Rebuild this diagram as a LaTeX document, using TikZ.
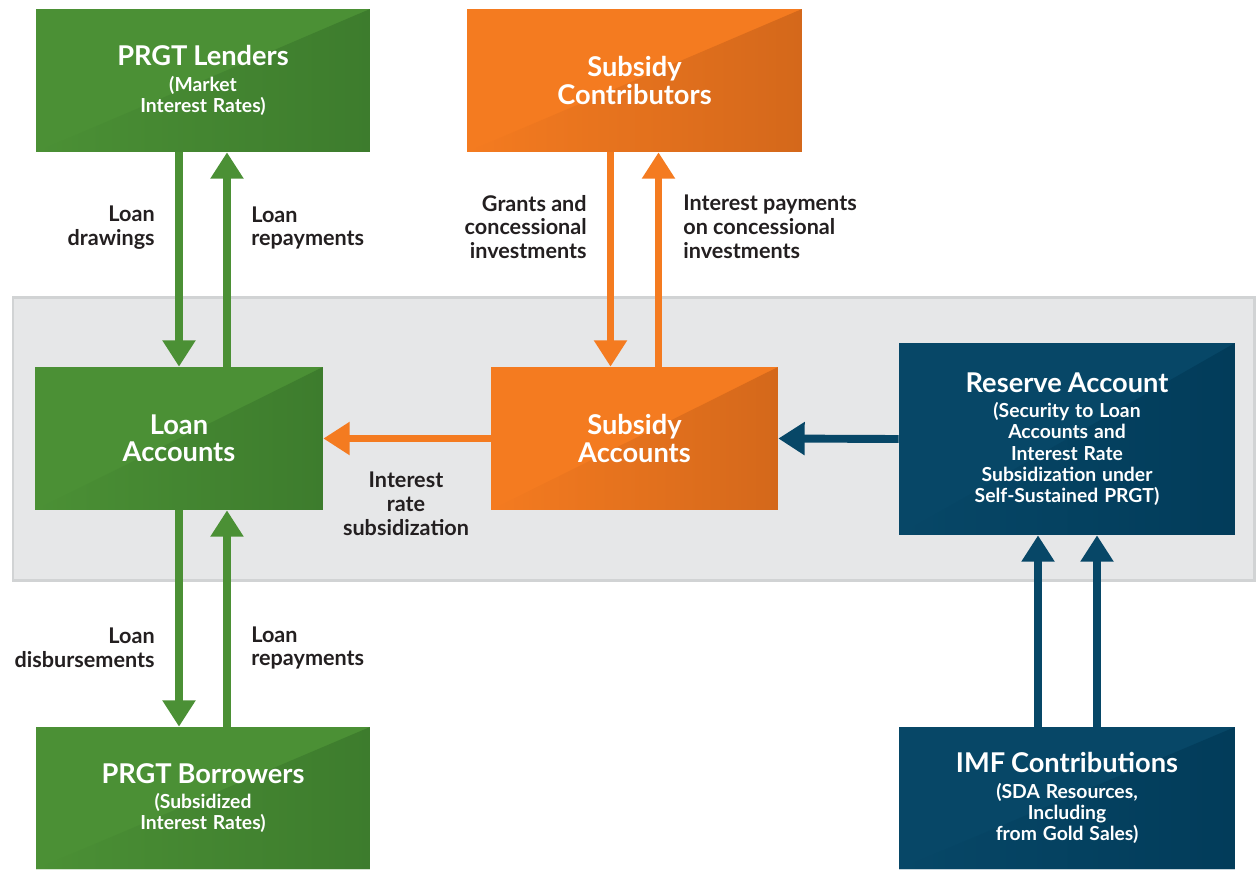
\documentclass[tikz,border=0pt]{standalone}
\usepackage{fontspec}
\setmainfont{Lato}
\usetikzlibrary{arrows.meta,positioning}
\definecolor{prgtgreen}{HTML}{4B9035}
\definecolor{prgtgreenD}{HTML}{3D7C2D}
\definecolor{subsorange}{HTML}{F47B20}
\definecolor{subsorangeD}{HTML}{D4681B}
\definecolor{imfblue}{HTML}{074767}
\definecolor{imfblueD}{HTML}{023C5A}
\definecolor{panelfill}{HTML}{E6E7E8}
\definecolor{panelline}{HTML}{D1D3D4}
\definecolor{labelgray}{HTML}{231F20}
\newcommand{\boxhead}[1]{{\fontsize{15.5}{15.5}\selectfont\bfseries #1\par}}
\newcommand{\boxnote}[1]{{\vspace{2.5pt}\fontsize{11}{12}\selectfont\bfseries #1\par}}
\tikzset{
  acct/.style 2 args={fill=#1, inner sep=0pt, text width=5cm, align=center,
    text=white,
    path picture={\fill[left color=#1, right color=#2]
      (path picture bounding box.south west) -- (path picture bounding box.north east)
      -- (path picture bounding box.south east) -- cycle;}},
  gbox/.style={acct={prgtgreen}{prgtgreenD}},
  obox/.style={acct={subsorange}{subsorangeD}},
  bbox/.style={acct={imfblue}{imfblueD}},
  flow/.style={line width=4.5pt, -{Triangle[width=18pt,length=15pt]}},
  garrow/.style={flow, draw=prgtgreen},
  oarrow/.style={flow, draw=subsorange},
  barrow/.style={flow, draw=imfblue},
  lbl/.style={font=\fontsize{12.3}{13.6}\selectfont\bfseries, text=labelgray, inner sep=0pt}
}
\begin{document}
\begin{tikzpicture}[x=0.02cm,y=-0.02cm]
    \useasboundingbox (0,0) rectangle (1256,869);
    %% grey panel round the accounts
    \draw[fill=panelfill, draw=panelline, line width=0.06cm] (13,297) rectangle (1254,580);
    %% boxes
    \node[gbox, minimum width=6.68cm, minimum height=2.86cm] (lenders) at (203,80.5)
        {\boxhead{PRGT Lenders}\boxnote{(Market\\Interest Rates)}};
    \node[obox, minimum width=6.7cm, minimum height=2.86cm] (contrib) at (634.5,80.5)
        {\boxhead{Subsidy\\Contributors}};
    \node[gbox, minimum width=5.76cm, minimum height=2.86cm] (loanacc) at (179,438.5)
        {\boxhead{Loan\\Accounts}};
    \node[obox, minimum width=5.74cm, minimum height=2.86cm] (subacc) at (634.5,438.5)
        {\boxhead{Subsidy\\Accounts}};
    \node[bbox, minimum width=6.72cm, minimum height=3.84cm] (reserve) at (1067,439)
        {\boxhead{Reserve Account}\boxnote{(Security to Loan\\Accounts and\\Interest Rate\\Subsidization under\\Self-Sustained PRGT)}};
    \node[gbox, minimum width=6.68cm, minimum height=2.84cm] (borrowers) at (203,798)
        {\boxhead{PRGT Borrowers}\boxnote{(Subsidized\\Interest Rates)}};
    \node[bbox, minimum width=6.72cm, minimum height=2.84cm] (imf) at (1067,798)
        {\boxhead{IMF Contributions}\boxnote{(SDA Resources,\\Including\\from Gold Sales)}};
    %% loan flows
    \coordinate (rep1) at ([xshift=0.96cm]loanacc.north);
    \coordinate (rep2) at ([xshift=0.96cm]loanacc.south);
    \draw[garrow] (lenders.south -| loanacc.north) -- (loanacc.north);
    \draw[garrow] (rep1) -- (rep1 |- lenders.south);
    \draw[garrow] (loanacc.south) -- (loanacc.south |- borrowers.north);
    \draw[garrow] (rep2 |- borrowers.north) -- (rep2);
    %% subsidy flows
    \draw[oarrow] ([xshift=-0.48cm]contrib.south) -- ([xshift=-0.48cm]subacc.north);
    \draw[oarrow] ([xshift=0.48cm]subacc.north) -- ([xshift=0.48cm]contrib.south);
    \draw[oarrow] (subacc.west) -- (loanacc.east);
    %% reserve flows
    \draw[barrow] (reserve.west) -- (subacc.east);
    \draw[barrow] ([xshift=-0.58cm]imf.north) -- ([xshift=-0.58cm]reserve.south);
    \draw[barrow] ([xshift=0.6cm]imf.north) -- ([xshift=0.6cm]reserve.south);
    %% labels
    \node[lbl, anchor=east, align=right] (drawlbl) at (155,228) {Loan\\drawings};
    \node[lbl, anchor=west, align=left] (replbl) at (251,228) {Loan\\repayments};
    \node[lbl, anchor=east, align=right] (grantlbl) at (587,227) {Grants and\\concessional\\investments};
    \node[lbl, anchor=west, align=left] (intlbl) at (683,227) {Interest payments\\on concessional\\investments};
    \node[lbl, align=center] (sublbl) at (406,504) {Interest\\rate\\subsidization};
    \node[lbl, anchor=east, align=right] (disblbl) at (155,648) {Loan\\disbursements};
    \node[lbl, anchor=west, align=left] (replbl2) at (251,648) {Loan\\repayments};
\end{tikzpicture}
\end{document}
